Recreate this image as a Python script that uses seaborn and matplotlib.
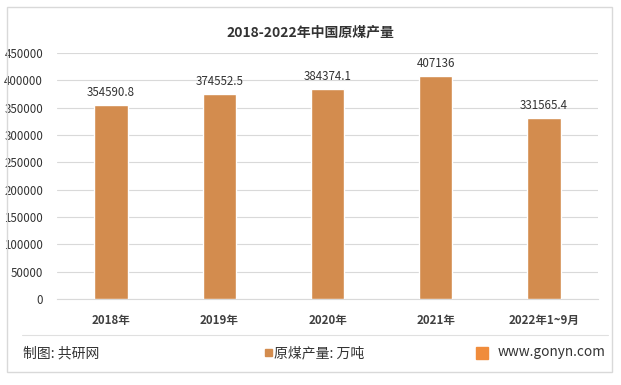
import numpy as np
import pandas as pd
import seaborn as sns
import matplotlib.pyplot as plt
from matplotlib.patches import Rectangle
from matplotlib.lines import Line2D

years = ['2018年', '2019年', '2020年', '2021年', '2022年1~9月']
output = [354590.8, 374552.5, 384374.1, 407136, 331565.4]
value_labels = ['354590.8', '374552.5', '384374.1', '407136', '331565.4']

sns.set_style('white')
plt.rcParams['font.family'] = ['Noto Sans CJK SC', 'DejaVu Sans']

bar_color = '#D38C4E'
df = pd.DataFrame({'year': years, 'output': output})

fig = plt.figure(figsize=(6.21, 3.85), dpi=100)
ax = fig.add_axes([57 / 621, 1 - 299 / 385, 541 / 621, 246 / 385])

sns.barplot(data=df, x='year', y='output', color=bar_color, width=0.31,
            saturation=1, ax=ax, zorder=3)

for i, (v, lab) in enumerate(zip(output, value_labels)):
    ax.text(i, v + 11000, lab, ha='center', va='bottom', fontsize=8.3,
            color='#333333')

ax.set_ylim(0, 450000)
ax.set_yticks(np.arange(0, 450001, 50000))
ax.yaxis.grid(True, color='#d9d9d9', lw=0.8, zorder=0)
ax.set_axisbelow(True)
for s in ax.spines.values():
    s.set_visible(False)
ax.spines['bottom'].set_visible(True)
ax.spines['bottom'].set_color('#d9d9d9')
ax.tick_params(axis='both', length=0, labelsize=8.3, colors='#333333')
ax.tick_params(axis='y', pad=10)
ax.tick_params(axis='x', pad=11)
for t in ax.get_xticklabels():
    t.set_fontweight('bold')
    t.set_color('#404040')
ax.set_xlabel('')
ax.set_ylabel('')

fig.text(0.5, 1 - 33 / 385, '2018-2022年中国原煤产量', ha='center', va='center',
         fontsize=10, fontweight='bold', color='#333333')

# outer frame and footer
fig.add_artist(Rectangle((7 / 621, 1 - 372 / 385), 605 / 621, 365 / 385,
                         transform=fig.transFigure, fill=False,
                         edgecolor='#d9d9d9', lw=1))
fig.add_artist(Line2D([22 / 621, 608 / 621], [1 - 335 / 385] * 2,
                      transform=fig.transFigure, color='#e0e0e0', lw=0.8))
fig.text(23 / 621, 1 - 353 / 385, '制图: 共研网', ha='left', va='center',
         fontsize=10, color='#333333')
fig.add_artist(Rectangle((265 / 621, 1 - 356 / 385), 7 / 621, 7 / 385,
                         transform=fig.transFigure, color=bar_color))
fig.text(274 / 621, 1 - 353 / 385, '原煤产量: 万吨', ha='left', va='center',
         fontsize=10, color='#333333')
fig.add_artist(Rectangle((476 / 621, 1 - 359 / 385), 12 / 621, 12 / 385,
                         transform=fig.transFigure, color='#F08C3C'))
fig.text(498 / 621, 1 - 352 / 385, 'www.gonyn.com', ha='left', va='center',
         fontsize=9.8, color='#333333')

plt.savefig('out.png', dpi=100)
